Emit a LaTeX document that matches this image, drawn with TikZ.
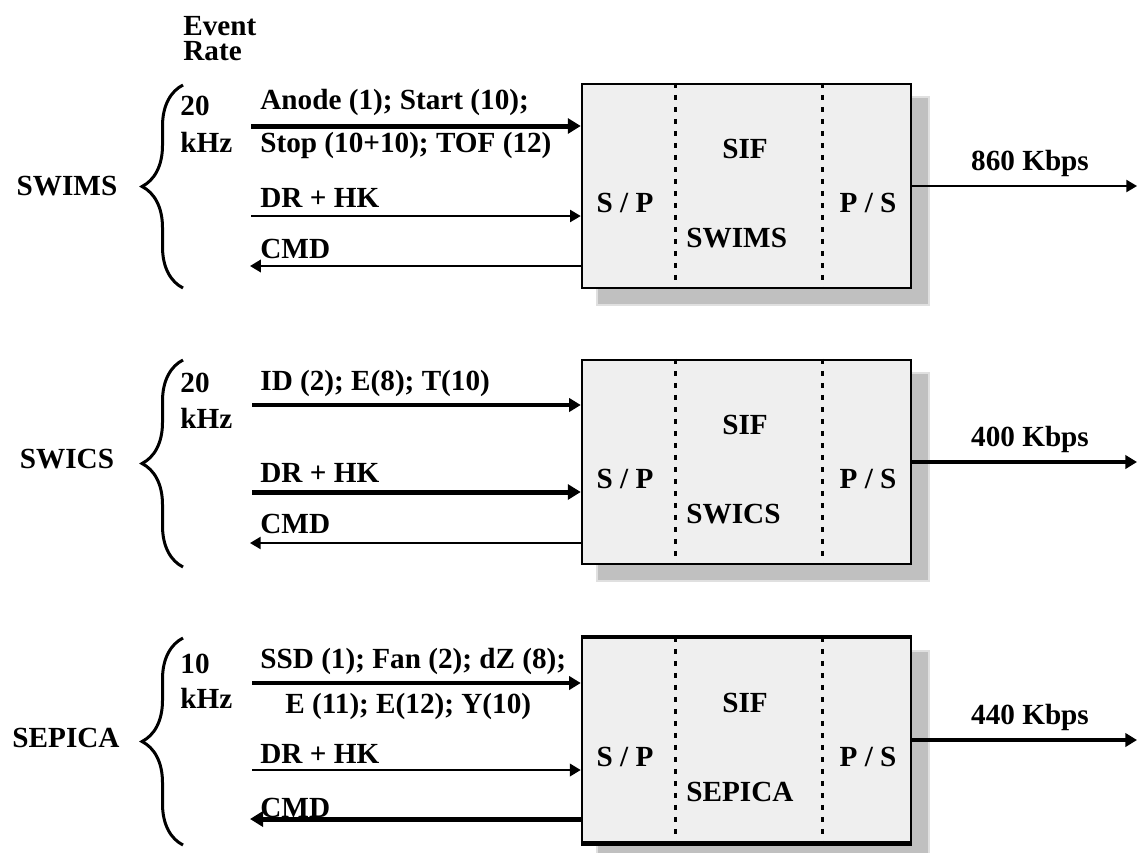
\documentclass[tikz,border=0pt]{standalone}
\usepackage{fontspec}
\setmainfont{Liberation Serif}
\usepackage{tikz}
\usetikzlibrary{positioning,arrows.meta,calc,decorations.pathreplacing}
\definecolor{boxfill}  {HTML}{EFEFEF}
\definecolor{shade}    {HTML}{C0C0C0}
\definecolor{shadeline}{HTML}{E0E0E0}
\tikzset{
  every node/.style={font=\bfseries\fontsize{14.6}{16}\selectfont, inner sep=0pt},
  % --- boxes
  sif/.style      = {draw=black, line width=1.25pt, fill=boxfill,
                     minimum width=164.5pt, minimum height=102pt},
  shadowbox/.style= {fill=shade, draw=shadeline, line width=0.6pt},
  divider/.style  = {line width=1.5pt, dash pattern=on 2.75pt off 3.25pt},
  lbl/.style      = {anchor=base west},
  mid/.style      = {anchor=base},
  rbrace/.style   = {decorate, decoration={brace, amplitude=20.5pt}, line width=1.5pt},
  % --- edges
  e/.style        = {-{Triangle[length=4.5pt 0.8,width=5pt 1]}, line width=1pt},
  emid/.style     = {e, line width=1.6pt},
  ethick/.style   = {e, line width=2.5pt},
}

\begin{document}
\begin{tikzpicture}[x=0.5pt,y=-0.5pt]
  \useasboundingbox (0,0) rectangle (1138,852);
  % the three SIF boxes
  \foreach \n/\ty/\nm/\rt/\ow in {1/84/SWIMS/860/e, 2/360/SWICS/400/emid, 3/638/SEPICA/440/emid} {
    \fill[shadowbox] (597,{\ty+13}) rectangle (929,{\ty+221});
    \draw[shadowbox, fill=none] (597,{\ty+13}) rectangle (929,{\ty+221});
    \node[sif] (b\n) at (746.5,{\ty+102}) {};
    \draw[divider] ([xshift=47.5pt]b\n.north west) -- ([xshift=47.5pt]b\n.south west);
    \draw[divider] ([xshift=121pt]b\n.north west) -- ([xshift=121pt]b\n.south west);
    \node[mid] (sif\n) at (745,{\ty+74}) {SIF};
    \node[mid] (sp\n) at (625,{\ty+128}) {S / P};
    \node[mid] (ps\n) at (868,{\ty+128}) {P / S};
    \node[lbl] (inst\n) at (686,{\ty+163}) {\nm};
    \coordinate (out\n) at (1137,{\ty+102});
    \draw[\ow] (b\n.east) -- (out\n);
    \node[mid] (kb\n) at (1030,{\ty+86}) {\rt{} Kbps};
  }
  \draw[line width=2pt] (b3.north west) -- (b3.north east);
  \draw[line width=2.5pt] (b3.south west) -- (b3.south east);

  \node[lbl] (ev) at (183,35) {Event};
  \node[lbl] (rt) at (183,60) {Rate};

  % SWIMS
  \draw[rbrace] (183,288) -- (183,85);
  \node[mid] (swims) at (67,195) {SWIMS};
  \node[lbl] (r1a) at (180,115) {20};
  \node[lbl] (r1b) at (180,152) {kHz};
  \node[lbl] (t1a) at (260,109) {Anode (1); Start (10);};
  \node[lbl] (t1b) at (260,152) {Stop (10+10); TOF (12)};
  \node[lbl] (t1c) at (260,207) {DR + HK};
  \node[lbl] (t1d) at (260,258) {CMD};
  \coordinate (s1a) at (251,126);
  \coordinate (s1c) at (251,216);
  \coordinate (s1d) at (250,266);
  \draw[ethick] (s1a) -- (s1a -| b1.west);
  \draw[e] (s1c) -- (s1c -| b1.west);
  \draw[e, line width=1.2pt] (s1d -| b1.west) -- (s1d);

  % SWICS
  \draw[rbrace] (183,567) -- (183,360);
  \node[mid] (swics) at (67,468) {SWICS};
  \node[lbl] (r2a) at (180,392) {20};
  \node[lbl] (r2b) at (180,428) {kHz};
  \node[lbl] (t2a) at (260,390) {ID (2); E(8); T(10)};
  \node[lbl] (t2c) at (260,482) {DR + HK};
  \node[lbl] (t2d) at (260,533) {CMD};
  \coordinate (s2a) at (252,405);
  \coordinate (s2c) at (252,492);
  \coordinate (s2d) at (250,543);
  \draw[emid] (s2a) -- (s2a -| b2.west);
  \draw[ethick] (s2c) -- (s2c -| b2.west);
  \draw[e] (s2d -| b2.west) -- (s2d);

  % SEPICA
  \draw[rbrace] (183,845) -- (183,638);
  \node[mid] (sepica) at (66,747) {SEPICA};
  \node[lbl] (r3a) at (180,673) {10};
  \node[lbl] (r3b) at (180,708) {kHz};
  \node[lbl] (t3a) at (260,668) {SSD (1); Fan (2); dZ (8);};
  \node[lbl] (t3b) at (285,713) {E (11); E(12); Y(10)};
  \node[lbl] (t3c) at (260,763) {DR + HK};
  \node[lbl] (t3d) at (260,817) {CMD};
  \coordinate (s3a) at (252,683);
  \coordinate (s3c) at (252,770);
  \coordinate (s3d) at (250,819);
  \draw[emid] (s3a) -- (s3a -| b3.west);
  \draw[e, line width=1.25pt] (s3c) -- (s3c -| b3.west);
  \draw[ethick] (s3d -| b3.west) -- (s3d);
\end{tikzpicture}
\end{document}
